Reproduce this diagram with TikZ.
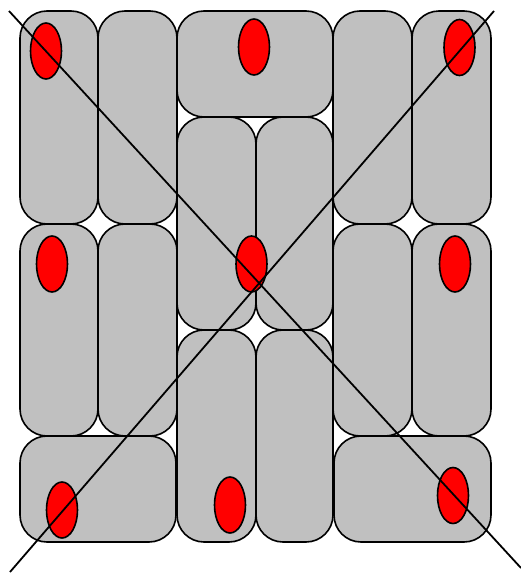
\documentclass[tikz,border=0pt]{standalone}
\usetikzlibrary{shapes.geometric}
\definecolor{cellgray}{HTML}{C0C0C0}
\definecolor{blobred}{HTML}{FF0000}
\newcommand\cellbox[5]{%
  \node[cellbox, minimum width={(#3-#2)*1pt}, minimum height={(#5-#4)*1pt}]
    (#1) at ({(#2+#3)/2},{-(#4+#5)/2}) {};}
\begin{document}
\begin{tikzpicture}[x=1pt,y=1pt,
  cellbox/.style={draw=black, fill=cellgray, line width=1.6pt, rounded corners=27pt,
    rectangle, inner sep=0pt, outer sep=0pt},
  blob/.style={ellipse, draw=black, fill=blobred, line width=1.6pt, inner sep=0pt,
    minimum width=31pt, minimum height=56pt},
  diag/.style={draw=black, line width=1.8pt}]
\useasboundingbox (0,0) rectangle (521,-573);
\cellbox{a1}{20}{98}{11}{224}
\cellbox{a2}{20}{98}{224}{436}
\cellbox{b1}{98}{177}{11}{224}
\cellbox{b2}{98}{177}{224}{436}
\cellbox{ab3}{20}{176}{436}{542}
\cellbox{c0}{177}{333}{11}{117}
\cellbox{c1}{177}{256}{117}{330}
\cellbox{d1}{256}{333}{117}{330}
\cellbox{c2}{177}{256}{330}{542}
\cellbox{d2}{256}{333}{330}{542}
\cellbox{e1}{333}{412}{11}{224}
\cellbox{e2}{333}{412}{224}{436}
\cellbox{f1}{412}{491}{11}{224}
\cellbox{f2}{412}{491}{224}{436}
\cellbox{ef3}{334}{491}{436}{542}
\node[blob] (r1) at (46,-51) {};
\node[blob] (r2) at (254,-47) {};
\node[blob] (r3) at (459.5,-47.5) {};
\node[blob] (r4) at (52,-264) {};
\node[blob] (r5) at (251.5,-264) {};
\node[blob] (r6) at (455,-264) {};
\node[blob] (r7) at (62,-510) {};
\node[blob] (r8) at (230,-505) {};
\node[blob] (r9) at (453,-495.5) {};
\coordinate (l1s) at (9,-11);
\coordinate (l1e) at (521,-568);
\coordinate (l2s) at (494,-11);
\coordinate (l2e) at (10,-572);
\draw[diag] (l1s) -- (l1e);
\draw[diag] (l2s) -- (l2e);
\end{tikzpicture}
\end{document}
